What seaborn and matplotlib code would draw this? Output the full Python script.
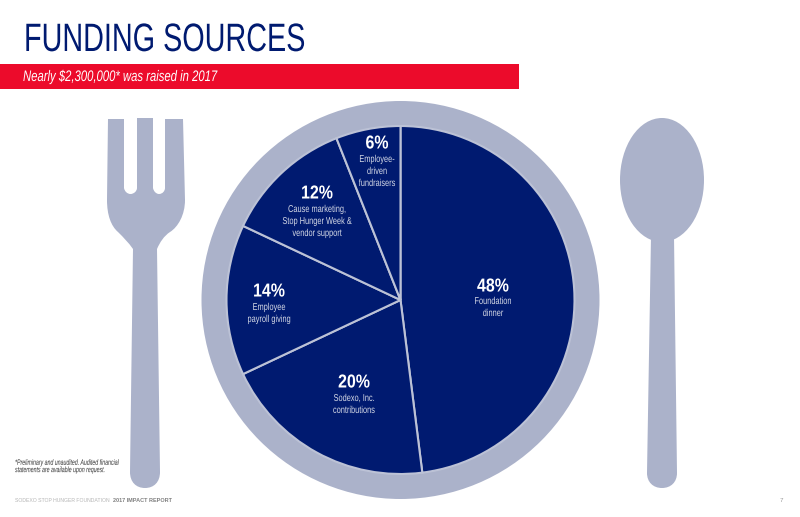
import matplotlib.pyplot as plt
import seaborn as sns
from matplotlib.patches import Circle, Ellipse, PathPatch, Rectangle
from matplotlib.path import Path
from matplotlib.patheffects import AbstractPathEffect
from matplotlib.transforms import Affine2D

W, H = 800, 517
NAVY = "#001a70"
PLATE = "#abb2ca"
RED = "#ec0b2b"

shares = [48, 20, 14, 12, 6]
pct_labels = ["48%", "20%", "14%", "12%", "6%"]
descriptions = [
    "Foundation\ndinner",
    "Sodexo, Inc.\ncontributions",
    "Employee\npayroll giving",
    "Cause marketing,\nStop Hunger Week &\nvendor support",
    "Employee-\ndriven\nfundraisers",
]
pct_pos = [(493, 287), (354, 383), (269, 292), (317, 194), (377, 144)]
desc_pos = [(493, 307), (354, 404), (269, 313), (317, 221), (377, 171)]

sns.set_theme(style="white")
plt.rcParams["font.family"] = ["Liberation Sans", "DejaVu Sans"]


class Narrow(AbstractPathEffect):
    # no condensed font here, so squeeze the glyphs sideways around x0
    def __init__(self, x0, sx):
        super().__init__()
        self.squeeze = Affine2D().translate(-x0, 0).scale(sx, 1).translate(x0, 0)

    def draw_path(self, renderer, gc, tpath, affine, rgbFace=None):
        renderer.draw_path(gc, tpath, affine + self.squeeze, rgbFace)


def fy(y):
    # picture pixels run downwards
    return H - y


def shape(points, **kw):
    verts = [(x, fy(y)) for _, x, y in points]
    codes = [c for c, _, _ in points]
    return PathPatch(Path(verts, codes), **kw)


def label(x, y, s, sx=1.0, **kw):
    return ax.text(x, fy(y), s, path_effects=[Narrow(x, sx)], parse_math=False, **kw)


M, L, C, Z = Path.MOVETO, Path.LINETO, Path.CURVE4, Path.CLOSEPOLY

fork = [
    (M, 108, 119), (L, 124, 119), (L, 124, 188),
    (C, 124.5, 191), (C, 127, 194), (C, 130.5, 194),
    (C, 134, 194), (C, 137, 191), (C, 137, 188),
    (L, 137, 118), (L, 153, 118), (L, 153, 188),
    (C, 153.5, 191), (C, 156, 194), (C, 159, 194),
    (C, 162.5, 194), (C, 165, 191), (C, 165, 188),
    (L, 165, 119), (L, 183, 119), (L, 185, 200),
    (C, 185, 215), (C, 178, 227), (C, 170, 232),
    (C, 164, 236), (C, 160, 242), (C, 157, 249),
    (L, 160, 472),
    (C, 160, 482), (C, 154, 488), (C, 145, 488),
    (C, 136, 488), (C, 130, 482), (C, 130, 472),
    (L, 133, 249),
    (C, 128, 242), (C, 124, 238), (C, 118, 232),
    (C, 111, 226), (C, 107, 215), (C, 107, 200),
    (L, 108, 119), (Z, 108, 119),
]
fork = [(c, p[0], p[1]) for c, *p in fork]

spoon_handle = [
    (M, 651, 236), (L, 674, 236), (L, 677, 473),
    (C, 677, 482), (C, 671, 488), (C, 662, 488),
    (C, 653, 488), (C, 647, 482), (C, 647, 473),
    (L, 651, 236), (Z, 651, 236),
]
spoon_handle = [(c, p[0], p[1]) for c, *p in spoon_handle]

fig = plt.figure(figsize=(W / 100, H / 100), dpi=100, facecolor="white")
ax = fig.add_axes([0, 0, 1, 1])
ax.set_xlim(0, W)
ax.set_ylim(0, H)
ax.axis("off")

# cutlery
ax.add_patch(shape(fork, fc=PLATE, ec="none"))
ax.add_patch(shape(spoon_handle, fc=PLATE, ec="none"))
ax.add_patch(Ellipse((662, fy(180)), 84, 124, fc=PLATE, ec="none"))

# plate and pie
ax.add_patch(Circle((400.5, fy(300)), 199, fc=PLATE, ec="none", zorder=1))
ax.pie(
    shares,
    startangle=90,
    counterclock=False,
    colors=[NAVY] * len(shares),
    radius=174,
    center=(400.5, fy(300)),
    frame=True,
    wedgeprops={"edgecolor": "#bcc2d6", "linewidth": 1.5, "zorder": 2},
)
ax.set_xlim(0, W)
ax.set_ylim(0, H)
ax.axis("off")

for pct, desc, (px, py), (dx, dy) in zip(pct_labels, descriptions, pct_pos, desc_pos):
    label(px, py, pct, sx=0.85, color="white", fontsize=13.5, fontweight="bold",
          ha="center", va="center", zorder=5)
    label(dx, dy, desc, sx=0.74, color="#d5d9e6", fontsize=7.2, ha="center", va="center",
          linespacing=1.25, zorder=5)

# header
label(24, 51, "FUNDING SOURCES", sx=0.727, color=NAVY, fontsize=28.5, ha="left", va="baseline")
ax.add_patch(Rectangle((0, fy(89)), 519, 25, fc=RED, ec="none"))
label(23, 81, "Nearly $2,300,000* was raised in 2017", sx=0.74, color="white", fontsize=11,
      style="italic", ha="left", va="baseline")

# footnote and footer
label(15, 467, "*Preliminary and unaudited. Audited financial\nstatements are available upon request.",
      sx=0.66, color="#333333", fontsize=5.7, style="italic", ha="left", va="center", linespacing=1.05)
ax.text(15, fy(500), "SODEXO STOP HUNGER FOUNDATION", color="#b5b5b5", fontsize=3.7,
        ha="left", va="center")
ax.text(113, fy(500), "2017 IMPACT REPORT", color="#808080", fontsize=3.95, fontweight="bold",
        ha="left", va="center")
ax.text(781, fy(500), "7", color="#999999", fontsize=4.5, ha="center", va="center")

fig.savefig("out.png", dpi=100, facecolor="white")
